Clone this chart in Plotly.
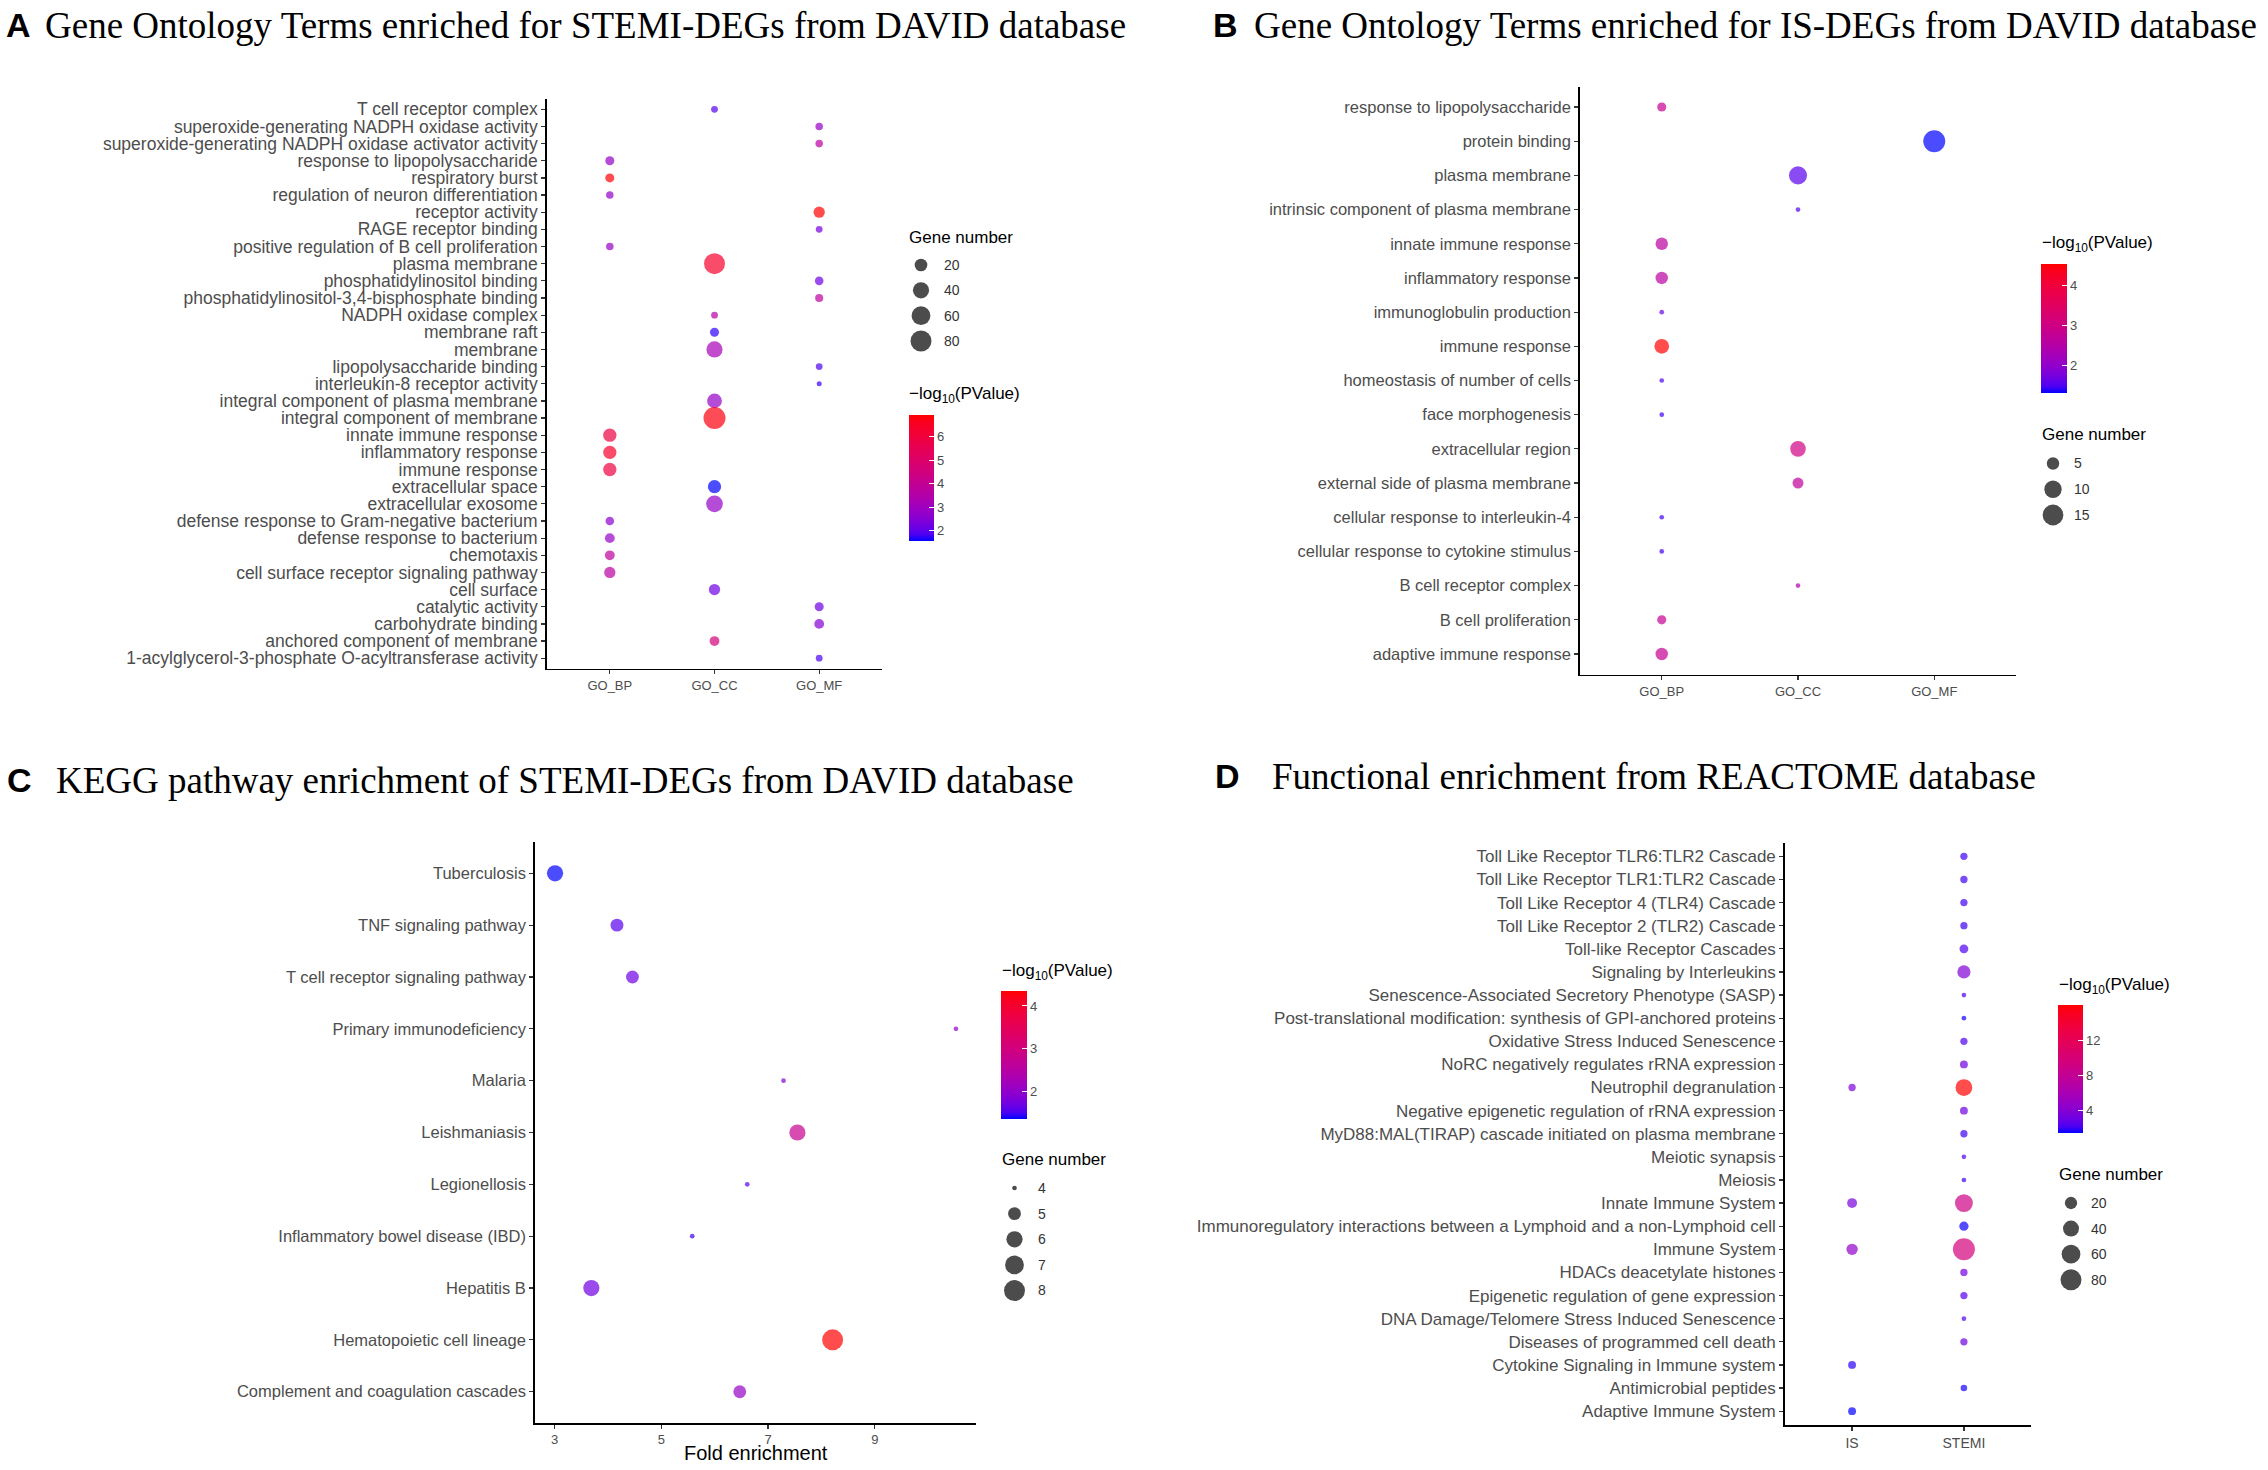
import numpy as np
import plotly.graph_objects as go

W, H = 2268, 1470

# ---------------- Panel A data ----------------
a_terms = [
    "T cell receptor complex",
    "superoxide-generating NADPH oxidase activity",
    "superoxide-generating NADPH oxidase activator activity",
    "response to lipopolysaccharide",
    "respiratory burst",
    "regulation of neuron differentiation",
    "receptor activity",
    "RAGE receptor binding",
    "positive regulation of B cell proliferation",
    "plasma membrane",
    "phosphatidylinositol binding",
    "phosphatidylinositol-3,4-bisphosphate binding",
    "NADPH oxidase complex",
    "membrane raft",
    "membrane",
    "lipopolysaccharide binding",
    "interleukin-8 receptor activity",
    "integral component of plasma membrane",
    "integral component of membrane",
    "innate immune response",
    "inflammatory response",
    "immune response",
    "extracellular space",
    "extracellular exosome",
    "defense response to Gram-negative bacterium",
    "defense response to bacterium",
    "chemotaxis",
    "cell surface receptor signaling pathway",
    "cell surface",
    "catalytic activity",
    "carbohydrate binding",
    "anchored component of membrane",
    "1-acylglycerol-3-phosphate O-acyltransferase activity",
]
a_ontology = ["GO_CC", "GO_MF", "GO_MF", "GO_BP", "GO_BP", "GO_BP", "GO_MF", "GO_MF",
              "GO_BP", "GO_CC", "GO_MF", "GO_MF", "GO_CC", "GO_CC", "GO_CC", "GO_MF",
              "GO_MF", "GO_CC", "GO_CC", "GO_BP", "GO_BP", "GO_BP", "GO_CC", "GO_CC",
              "GO_BP", "GO_BP", "GO_BP", "GO_BP", "GO_CC", "GO_MF", "GO_MF", "GO_CC", "GO_MF"]
a_genes = [3, 4, 4, 7, 7, 4, 14, 3, 4, 80, 6, 5, 3, 7, 40, 3, 2, 31, 90, 23, 23, 23, 23, 44,
           6, 9, 9, 14, 14, 7, 9, 9, 3]
a_logp = [2.0, 2.8, 3.7, 2.8, 6.9, 2.8, 6.95, 2.3, 2.8, 6.4, 2.2, 3.8, 3.6, 1.75, 3.2, 1.9,
          1.8, 2.8, 6.8, 5.9, 6.4, 6.0, 1.59, 2.8, 2.7, 2.9, 3.8, 3.7, 2.2, 2.2, 2.5, 4.6, 1.85]
go_categories = ["GO_BP", "GO_CC", "GO_MF"]
a_size_breaks = [20, 40, 60, 80]
a_color_ticks = [2, 3, 4, 5, 6]

# ---------------- Panel B data ----------------
b_terms = [
    "response to lipopolysaccharide",
    "protein binding",
    "plasma membrane",
    "intrinsic component of plasma membrane",
    "innate immune response",
    "inflammatory response",
    "immunoglobulin production",
    "immune response",
    "homeostasis of number of cells",
    "face morphogenesis",
    "extracellular region",
    "external side of plasma membrane",
    "cellular response to interleukin-4",
    "cellular response to cytokine stimulus",
    "B cell receptor complex",
    "B cell proliferation",
    "adaptive immune response",
]
b_ontology = ["GO_BP", "GO_MF", "GO_CC", "GO_CC", "GO_BP", "GO_BP", "GO_BP", "GO_BP", "GO_BP",
              "GO_BP", "GO_CC", "GO_CC", "GO_BP", "GO_BP", "GO_CC", "GO_BP", "GO_BP"]
b_genes = [3, 17, 11, 2, 5, 5, 2, 7, 2, 2, 8, 4, 2, 2, 2, 3, 5]
b_logp = [2.8, 1.31, 1.55, 1.5, 2.6, 2.6, 1.65, 4.54, 1.5, 1.45, 3.0, 2.7, 1.45, 1.45, 2.4, 2.8, 2.8]
b_size_breaks = [5, 10, 15]
b_color_ticks = [2, 3, 4]

# ---------------- Panel C data ----------------
c_terms = [
    "Tuberculosis",
    "TNF signaling pathway",
    "T cell receptor signaling pathway",
    "Primary immunodeficiency",
    "Malaria",
    "Leishmaniasis",
    "Legionellosis",
    "Inflammatory bowel disease (IBD)",
    "Hepatitis B",
    "Hematopoietic cell lineage",
    "Complement and coagulation cascades",
]
c_fold = [3.01, 4.17, 4.46, 10.52, 7.29, 7.55, 6.61, 5.58, 3.69, 8.21, 6.47]
c_genes = [6, 5, 5, 4, 4, 6, 4, 4, 6, 8, 5]
c_logp = [1.38, 1.6, 1.72, 2.0, 1.85, 2.8, 1.6, 1.5, 1.72, 4.36, 2.1]
c_x_ticks = [3, 5, 7, 9]
c_size_breaks = [4, 5, 6, 7, 8]
c_color_ticks = [2, 3, 4]

# ---------------- Panel D data ----------------
d_terms = [
    "Toll Like Receptor TLR6:TLR2 Cascade",
    "Toll Like Receptor TLR1:TLR2 Cascade",
    "Toll Like Receptor 4 (TLR4) Cascade",
    "Toll Like Receptor 2 (TLR2) Cascade",
    "Toll-like Receptor Cascades",
    "Signaling by Interleukins",
    "Senescence-Associated Secretory Phenotype (SASP)",
    "Post-translational modification: synthesis of GPI-anchored proteins",
    "Oxidative Stress Induced Senescence",
    "NoRC negatively regulates rRNA expression",
    "Neutrophil degranulation",
    "Negative epigenetic regulation of rRNA expression",
    "MyD88:MAL(TIRAP) cascade initiated on plasma membrane",
    "Meiotic synapsis",
    "Meiosis",
    "Innate Immune System",
    "Immunoregulatory interactions between a Lymphoid and a non-Lymphoid cell",
    "Immune System",
    "HDACs deacetylate histones",
    "Epigenetic regulation of gene expression",
    "DNA Damage/Telomere Stress Induced Senescence",
    "Diseases of programmed cell death",
    "Cytokine Signaling in Immune system",
    "Antimicrobial peptides",
    "Adaptive Immune System",
]
d_groups = ["IS", "STEMI"]
d_point_term = [
    "Toll Like Receptor TLR6:TLR2 Cascade",
    "Toll Like Receptor TLR1:TLR2 Cascade",
    "Toll Like Receptor 4 (TLR4) Cascade",
    "Toll Like Receptor 2 (TLR2) Cascade",
    "Toll-like Receptor Cascades",
    "Signaling by Interleukins",
    "Senescence-Associated Secretory Phenotype (SASP)",
    "Post-translational modification: synthesis of GPI-anchored proteins",
    "Oxidative Stress Induced Senescence",
    "NoRC negatively regulates rRNA expression",
    "Neutrophil degranulation",
    "Neutrophil degranulation",
    "Negative epigenetic regulation of rRNA expression",
    "MyD88:MAL(TIRAP) cascade initiated on plasma membrane",
    "Meiotic synapsis",
    "Meiosis",
    "Innate Immune System",
    "Innate Immune System",
    "Immunoregulatory interactions between a Lymphoid and a non-Lymphoid cell",
    "Immune System",
    "Immune System",
    "HDACs deacetylate histones",
    "Epigenetic regulation of gene expression",
    "DNA Damage/Telomere Stress Induced Senescence",
    "Diseases of programmed cell death",
    "Cytokine Signaling in Immune system",
    "Antimicrobial peptides",
    "Adaptive Immune System",
]
d_point_group = ["STEMI", "STEMI", "STEMI", "STEMI", "STEMI", "STEMI", "STEMI", "STEMI",
                 "STEMI", "STEMI", "IS", "STEMI", "STEMI", "STEMI", "STEMI", "STEMI",
                 "IS", "STEMI", "STEMI", "IS", "STEMI", "STEMI", "STEMI", "STEMI", "STEMI",
                 "IS", "STEMI", "IS"]
d_genes = [5, 5, 5, 5, 8, 24, 3, 3, 5, 6, 5, 45, 6, 5, 3, 3, 11, 54, 9, 16, 90, 5, 5, 3, 5,
           6, 4, 6]
d_logp = [2.0, 2.0, 2.0, 2.0, 2.2, 3.8, 2.3, 1.6, 2.3, 3.1, 3.6, 15.95, 3.1, 2.0, 2.3, 2.0,
          3.4, 9.0, 1.5, 4.5, 9.5, 3.2, 2.4, 2.3, 3.1, 1.8, 1.6, 1.38]
d_size_breaks = [20, 40, 60, 80]
d_color_ticks = [4, 8, 12]


# ---------------- colour scale: blue -> red interpolated in CIE Lab ----------------
def _srgb_to_lab(rgb):
    lin = []
    for c in rgb:
        c = c / 255.0
        lin.append(((c + 0.055) / 1.055) ** 2.4 if c > 0.04045 else c / 12.92)
    r, g, b = lin
    X = (0.4124 * r + 0.3576 * g + 0.1805 * b) / 0.95047
    Y = (0.2126 * r + 0.7152 * g + 0.0722 * b)
    Z = (0.0193 * r + 0.1192 * g + 0.9505 * b) / 1.08883
    f = lambda t: t ** (1 / 3) if t > 0.008856 else 7.787 * t + 16 / 116
    fx_, fy_, fz_ = f(X), f(Y), f(Z)
    return 116 * fy_ - 16, 500 * (fx_ - fy_), 200 * (fy_ - fz_)


def _lab_to_hex(L, a, b):
    fy_ = (L + 16) / 116
    fx_ = fy_ + a / 500
    fz_ = fy_ - b / 200
    finv = lambda t: t ** 3 if t ** 3 > 0.008856 else (t - 16 / 116) / 7.787
    X, Y, Z = 0.95047 * finv(fx_), finv(fy_), 1.08883 * finv(fz_)
    r = 3.2406 * X - 1.5372 * Y - 0.4986 * Z
    g = -0.9689 * X + 1.8758 * Y + 0.0415 * Z
    bb = 0.0557 * X - 0.2040 * Y + 1.0570 * Z
    out = []
    for c in (r, g, bb):
        c = 12.92 * c if c <= 0.0031308 else 1.055 * max(c, 0) ** (1 / 2.4) - 0.055
        out.append(int(round(min(max(c, 0), 1) * 255)))
    return "#%02x%02x%02x" % tuple(out)


_lo = _srgb_to_lab((0, 0, 255))
_hi = _srgb_to_lab((255, 0, 0))
COLORSCALE = []
for t in np.linspace(0, 1, 21):
    lab = [_lo[i] + (_hi[i] - _lo[i]) * t for i in range(3)]
    COLORSCALE.append([float(t), _lab_to_hex(*lab)])


def dot_size(n, ref, dmin, dmax):
    n = np.asarray(n, float)
    lo, hi = min(ref), max(ref)
    return dmin + (dmax - dmin) * np.sqrt((n - lo) / (hi - lo))


def fx(p):
    return p / W


def fy(p):
    return 1 - p / H


LABEL_FONT = "Liberation Sans, Arial, sans-serif"
TITLE_FONT = "Liberation Serif, Times New Roman, serif"
GREY = "#4d4d4d"

fig = go.Figure()
layout = dict(
    width=W, height=H, margin=dict(l=0, r=0, t=0, b=0), autosize=False,
    paper_bgcolor="white", plot_bgcolor="white", showlegend=False,
    template="none", hovermode=False, annotations=[],
)


def axis_common(fontsize):
    return dict(showline=True, linecolor="black", linewidth=1.8, ticks="outside",
                ticklen=4, tickwidth=1.2, tickcolor="#333333", showgrid=False,
                zeroline=False, automargin=False, fixedrange=True,
                tickfont=dict(family=LABEL_FONT, size=fontsize, color=GREY))


def cat_axis(cats, dom_lo, dom_hi, anchor, fontsize, vertical):
    arr = list(cats)[::-1] if vertical else list(cats)
    d = dict(type="category", categoryorder="array", categoryarray=arr,
             tickmode="array", tickvals=arr, ticktext=arr,
             range=[-0.6, len(cats) - 0.4], anchor=anchor, **axis_common(fontsize))
    if vertical:
        d["domain"] = [fy(dom_hi), fy(dom_lo)]
    else:
        d["domain"] = [fx(dom_lo), fx(dom_hi)]
    return d


def colorbar(x0, y0, bh, bw, ticks):
    return dict(x=fx(x0), xanchor="left", y=fy(y0), yanchor="top", len=bh, lenmode="pixels",
                thickness=bw, thicknessmode="pixels", xpad=0, ypad=0, outlinewidth=0,
                tickvals=ticks, ticks="inside", ticklen=5, tickcolor="white", tickwidth=1,
                tickfont=dict(family=LABEL_FONT, size=13, color=GREY))


def add_title(letter, text, xl, xt, yc):
    layout["annotations"].append(dict(
        text="<b>%s</b>" % letter, x=fx(xl), y=fy(yc), xref="paper", yref="paper",
        xanchor="left", yanchor="middle", showarrow=False,
        font=dict(family=LABEL_FONT, size=34, color="black")))
    layout["annotations"].append(dict(
        text=text, x=fx(xt), y=fy(yc), xref="paper", yref="paper",
        xanchor="left", yanchor="middle", showarrow=False,
        font=dict(family=TITLE_FONT, size=37, color="black")))


def add_note(text, x, y, size=17, anchor="left"):
    layout["annotations"].append(dict(
        text=text, x=fx(x), y=fy(y), xref="paper", yref="paper", xanchor=anchor,
        yanchor="middle", showarrow=False,
        font=dict(family=LABEL_FONT, size=size, color="black")))


def size_legend(idx, breaks, ref, dmin, dmax, xdom, ydom, title_xy):
    xa, ya = "xaxis%d" % idx, "yaxis%d" % idx
    labels = [str(b) for b in breaks]
    fig.add_trace(go.Scatter(
        x=np.zeros(len(breaks)), y=labels, mode="markers", xaxis="x%d" % idx,
        yaxis="y%d" % idx, marker=dict(size=dot_size(breaks, ref, dmin, dmax),
                                       color="black", line=dict(width=0)),
        cliponaxis=False))
    layout[xa] = dict(domain=[fx(xdom[0]), fx(xdom[1])], range=[-1, 1], visible=False,
                      anchor="y%d" % idx, fixedrange=True)
    layout[ya] = dict(domain=[fy(ydom[1]), fy(ydom[0])], type="category",
                      categoryorder="array", categoryarray=labels,
                      tickmode="array", tickvals=labels, ticktext=labels,
                      range=[len(breaks) - 0.5, -0.5], side="right", anchor="x%d" % idx,
                      showline=False, ticks="", showgrid=False, zeroline=False,
                      automargin=False, fixedrange=True,
                      tickfont=dict(family=LABEL_FONT, size=14, color="#333333"))
    add_note("Gene number", title_xy[0], title_xy[1])


CB_TITLE = "\u2212log<sub>10</sub>(PValue)"

# ---------------- Panel A ----------------
fig.add_trace(go.Scatter(
    x=a_ontology, y=a_terms, mode="markers", xaxis="x", yaxis="y",
    marker=dict(size=dot_size(a_genes, a_genes, 5.0, 22.0), color=a_logp,
                colorscale=COLORSCALE, cmin=min(a_logp), cmax=max(a_logp),
                line=dict(width=0), showscale=True,
                colorbar=colorbar(909, 414.5, 125.5, 25, a_color_ticks))))
layout["xaxis"] = cat_axis(go_categories, 547, 882, "y", 13, False)
layout["yaxis"] = cat_axis(a_terms, 99, 668.5, "x", 17.5, True)
add_title("A", "Gene Ontology Terms enriched for STEMI-DEGs from DAVID database", 4, 43, 25)
add_note(CB_TITLE, 907, 395)
size_legend(5, a_size_breaks, a_genes, 5.0, 22.0, (899, 943), (252.3, 353.7), (907, 237.5))

# ---------------- Panel B ----------------
fig.add_trace(go.Scatter(
    x=b_ontology, y=b_terms, mode="markers", xaxis="x2", yaxis="y2",
    marker=dict(size=dot_size(b_genes, b_genes, 4.7, 22.0), color=b_logp,
                colorscale=COLORSCALE, cmin=min(b_logp), cmax=max(b_logp),
                line=dict(width=0), showscale=True,
                colorbar=colorbar(2041, 264, 129, 26, b_color_ticks))))
layout["xaxis2"] = cat_axis(go_categories, 1580, 2016, "y2", 13, False)
layout["yaxis2"] = cat_axis(b_terms, 86.5, 674.5, "x2", 16.5, True)
add_title("B", "Gene Ontology Terms enriched for IS-DEGs from DAVID database", 1211, 1252, 25)
add_note(CB_TITLE, 2040, 244)
size_legend(6, b_size_breaks, b_genes, 4.7, 22.0, (2033, 2073), (450.6, 527.9), (2040, 434.5))

# ---------------- Panel C ----------------
c_pad = 0.05 * (max(c_fold) - min(c_fold))
fig.add_trace(go.Scatter(
    x=c_fold, y=c_terms, mode="markers", xaxis="x3", yaxis="y3",
    marker=dict(size=dot_size(c_genes, c_genes, 4.7, 21.0), color=c_logp,
                colorscale=COLORSCALE, cmin=min(c_logp), cmax=max(c_logp),
                line=dict(width=0), showscale=True,
                colorbar=colorbar(1001, 990.5, 128, 26, c_color_ticks))))
layout["xaxis3"] = dict(domain=[fx(535), fx(976)], type="linear",
                        range=[min(c_fold) - c_pad, max(c_fold) + c_pad],
                        tickmode="array", tickvals=c_x_ticks, anchor="y3",
                        **axis_common(13))
layout["yaxis3"] = cat_axis(c_terms, 842.2, 1422.8, "x3", 16.5, True)
add_title("C", "KEGG pathway enrichment of STEMI-DEGs from DAVID database", 5, 54, 780)
add_note("Fold enrichment", 755.5, 1453, size=20, anchor="center")
add_note(CB_TITLE, 1000, 972)
size_legend(7, c_size_breaks, c_genes, 4.7, 21.0, (992, 1037), (1175.2, 1303.4), (1000, 1159.3))

# ---------------- Panel D ----------------
fig.add_trace(go.Scatter(
    x=d_point_group, y=d_point_term, mode="markers", xaxis="x4", yaxis="y4",
    marker=dict(size=dot_size(d_genes, d_genes, 4.7, 22.0), color=d_logp,
                colorscale=COLORSCALE, cmin=min(d_logp), cmax=max(d_logp),
                line=dict(width=0), showscale=True,
                colorbar=colorbar(2058, 1005.5, 128, 25, d_color_ticks))))
layout["xaxis4"] = cat_axis(d_groups, 1785, 2031, "y4", 14, False)
layout["yaxis4"] = cat_axis(d_terms, 842.5, 1425, "x4", 17, True)
add_title("D", "Functional enrichment from REACTOME database", 1213, 1270, 776)
add_note(CB_TITLE, 2057, 986)
size_legend(8, d_size_breaks, d_genes, 4.7, 22.0, (2052, 2090), (1190.2, 1292.6), (2057, 1174.3))

fig.update_layout(**layout)
fig.write_html("out.html",
               config={"displayModeBar": False, "staticPlot": True},
               post_script="document.body.style.margin='0px';"
                           "document.body.style.overflow='hidden';")
